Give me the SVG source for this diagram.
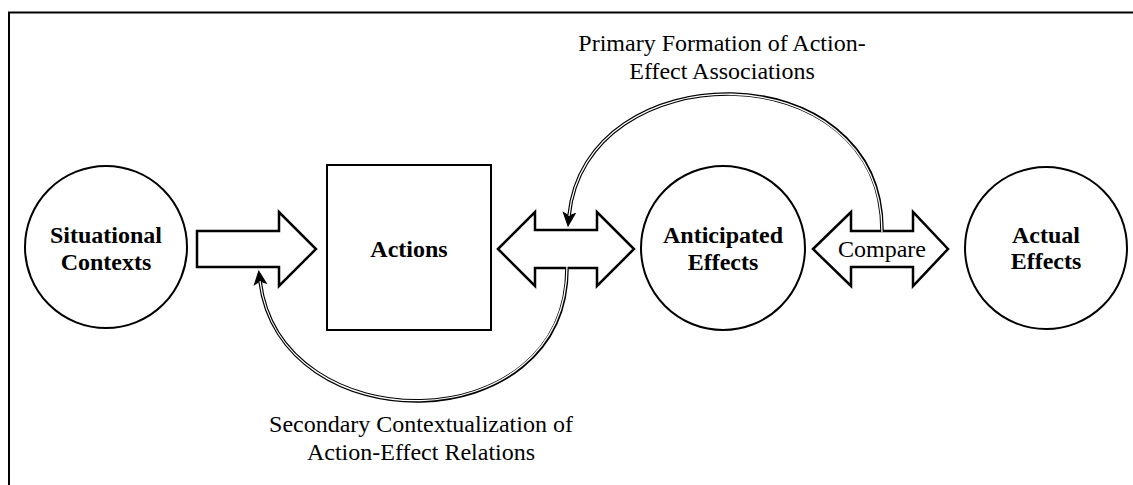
<svg xmlns="http://www.w3.org/2000/svg" width="1133" height="485" viewBox="0 0 1133 485">
<style>
.node{fill:#fff;stroke:#000;stroke-width:2}
.arr{fill:#fff;stroke:#000;stroke-width:2.5;stroke-linejoin:miter}
.lbl{font-size:24px;font-weight:bold;text-anchor:middle;fill:#000}
.txt{font-size:24px;text-anchor:middle;fill:#000}
.outer{fill:none;stroke:#000;stroke-width:3.6}
.inner{fill:none;stroke:#fff;stroke-width:1.3}
</style>
<defs>
<marker id="ah" markerUnits="userSpaceOnUse" viewBox="-1 -8 16 16" markerWidth="16" markerHeight="16" refX="3" refY="0" orient="auto">
<path d="M0,-6 L13,0 L0,6 L3,0 z" fill="#000" stroke="#000" stroke-width="1"/>
</marker>
</defs>
<rect width="1133" height="485" fill="#fff"/>
<path d="M9 485 V12.5 H1133" fill="none" stroke="#000" stroke-width="2"/>
<g font-family="'Liberation Serif', 'Times New Roman', serif">
<g id="situational-contexts">
<circle class="node" cx="106" cy="247" r="81"/>
<text class="lbl" x="106" y="243">Situational</text>
<text class="lbl" x="106" y="270">Contexts</text>
</g>
<g id="actions">
<rect class="node" x="327" y="165" width="164" height="165"/>
<text class="lbl" x="409" y="257">Actions</text>
</g>
<g id="anticipated-effects">
<circle class="node" cx="723" cy="248" r="82"/>
<text class="lbl" x="723" y="243">Anticipated</text>
<text class="lbl" x="723" y="270">Effects</text>
</g>
<g id="actual-effects">
<circle class="node" cx="1046" cy="248" r="81"/>
<text class="lbl" x="1046" y="243">Actual</text>
<text class="lbl" x="1046" y="269">Effects</text>
</g>
<g id="connectors">
<polygon class="arr" points="197,231 279,231 279,212 316,249 279,286 279,267 197,267"/>
<polygon class="arr" points="498,249 535,212 535,230 597,230 597,212 634,249 597,286 597,268 535,268 535,286"/>
<polygon class="arr" points="813,249 851,212 851,231 913,231 913,212 948,249 913,286 913,267 851,267 851,286"/>
<text class="txt" x="882" y="257">Compare</text>
<path class="outer" d="M882 230 C882 50, 585 52, 569 216" marker-end="url(#ah)"/>
<path class="inner" d="M882 232 C882 50, 585 52, 569 216"/>
<path class="outer" d="M567 268 C567 443, 280 443, 260 281" marker-end="url(#ah)"/>
<path class="inner" d="M567 266 C567 443, 280 443, 260 281"/>
</g>
<g id="labels">
<text class="txt" x="722" y="51">Primary Formation of Action-</text>
<text class="txt" x="722" y="79">Effect Associations</text>
<text class="txt" x="421" y="432">Secondary Contextualization of</text>
<text class="txt" x="421" y="460">Action-Effect Relations</text>
</g>
</g>
</svg>
